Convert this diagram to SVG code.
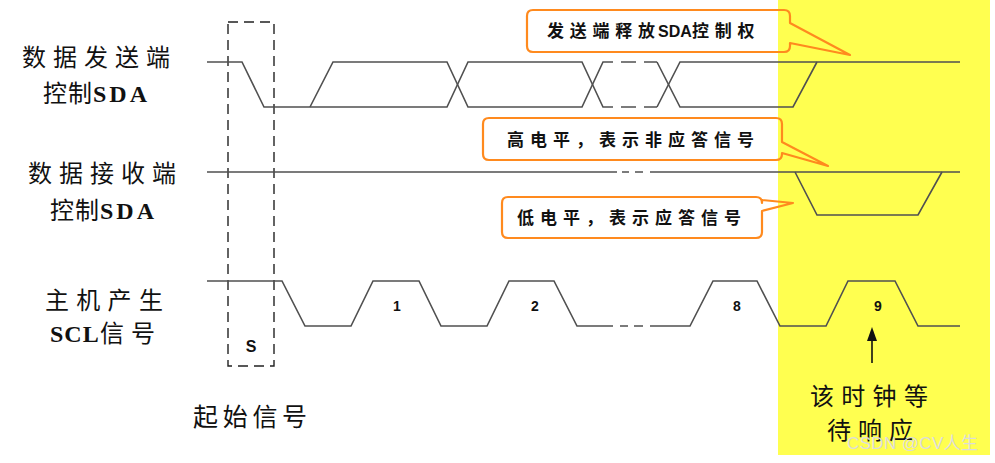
<svg xmlns="http://www.w3.org/2000/svg" width="995" height="463" viewBox="0 0 995 463">
<style>
.sig{fill:none;stroke:#505050;stroke-width:1.6;stroke-linejoin:miter}
.call{fill:none;stroke:#FF8A1E;stroke-width:2.2;stroke-linejoin:round}
.lbl{font-family:"Liberation Serif","Noto Sans CJK SC",serif;font-size:24px;fill:#111;letter-spacing:7px}
.lat{font-weight:bold;letter-spacing:1px}
.ctx{font-family:"Liberation Sans","Noto Sans CJK SC",sans-serif;font-size:17px;font-weight:bold;fill:#111;letter-spacing:6px}
.num{font-family:"Liberation Sans",sans-serif;font-size:14px;font-weight:bold;fill:#111;text-anchor:middle}
.dash{fill:none;stroke:#222;stroke-width:1.4;stroke-dasharray:10,6}
</style>
<rect id="highlight" x="778" y="0" width="212" height="455" fill="#FFFF50"/>

<g id="labels">
<text class="lbl" x="22" y="66">数据发送端</text>
<text class="lbl" x="43" y="102" style="letter-spacing:1px">控制<tspan class="lat" x="93" style="letter-spacing:3px">SDA</tspan></text>
<text class="lbl" x="28" y="182">数据接收端</text>
<text class="lbl" x="50" y="219" style="letter-spacing:1px">控制<tspan class="lat" x="100" style="letter-spacing:3px">SDA</tspan></text>
<text class="lbl" x="45" y="309" style="letter-spacing:7.3px">主机产生</text>
<text class="lbl" x="50" y="342"><tspan class="lat">SCL</tspan><tspan x="100">信号</tspan></text>
<text class="lbl" x="193" y="426" style="font-size:25px;letter-spacing:4.7px">起始信号</text>
<text class="lbl" x="810" y="405" style="letter-spacing:7.3px">该时钟等</text>
<text class="lbl" x="827" y="439">待响应</text>
</g>

<g id="start-box">
<rect class="dash" x="228" y="22" width="46" height="344"/>
<text class="num" x="251" y="352" style="font-size:16px">S</text>
</g>

<g id="sda-sender">
<path class="sig" d="M207,62 H242 L264,107 H447 L468,62 H582 L603,107 H613"/>
<path class="sig" d="M310,107 L333,62 H447 L468,107 H582 L603,62 H613"/>
<path class="sig" d="M621,62 H636 M644,62 H657 M621,107 H636 M644,107 H657"/>
<path class="sig" d="M657,62 L680,107 H793 L817,62"/>
<path class="sig" d="M657,107 L680,62 H960"/>
</g>

<g id="sda-receiver">
<path class="sig" d="M207,172 H617 M622,172 H629 M635,172 H643 M650,172 H960"/>
<path class="sig" d="M795,172 L817,215 H918 L942,172"/>
</g>

<g id="scl">
<path class="sig" d="M207,281 H282 L305,326 H351 L373,281 H419 L441,326 H487 L509,281 H554 L577,326 H613 M620,326 H628 M634,326 H643 M650,326 H690 L713,281 H757 L780,326 H826 L848,281 H895 L918,326 H960"/>
<text class="num" x="397" y="311">1</text>
<text class="num" x="535" y="311">2</text>
<text class="num" x="737" y="311">8</text>
<text class="num" x="878" y="311">9</text>
</g>

<g id="callout-release">
<path class="call" d="M533,10 H784 Q790,10 790,16 V23 L850,55 L790,43 V46 Q790,52 784,52 H533 Q527,52 527,46 V16 Q527,10 533,10 Z"/>
<text class="ctx" x="547" y="37" style="letter-spacing:5.75px">发送端释放<tspan x="658" style="letter-spacing:0;font-size:16px">SDA</tspan><tspan x="692">控制权</tspan></text>
</g>
<g id="callout-nack">
<path class="call" d="M489,118 H776 Q782,118 782,124 V142 L828,166 L782,153 V154 Q782,160 776,160 H489 Q483,160 483,154 V124 Q483,118 489,118 Z"/>
<text class="ctx" x="507" y="146">高电平，表示非应答信号</text>
</g>
<g id="callout-ack">
<path class="call" d="M508,197 H756 Q762,197 762,203 V200 L793,203 L762,211 V232 Q762,238 756,238 H508 Q502,238 502,232 V203 Q502,197 508,197 Z"/>
<text class="ctx" x="517" y="224">低电平，表示应答信号</text>
</g>

<g id="connectors">
<line x1="872" y1="363" x2="872" y2="339" stroke="#111" stroke-width="1.6"/>
<polygon points="872,327 867,341 877,341" fill="#111"/>
</g>

<text x="847" y="449" font-family="Liberation Sans,'Noto Sans CJK SC',sans-serif" font-size="17" fill="#dcdcdc" textLength="131" lengthAdjust="spacing">CSDN @CV人生</text>
</svg>
